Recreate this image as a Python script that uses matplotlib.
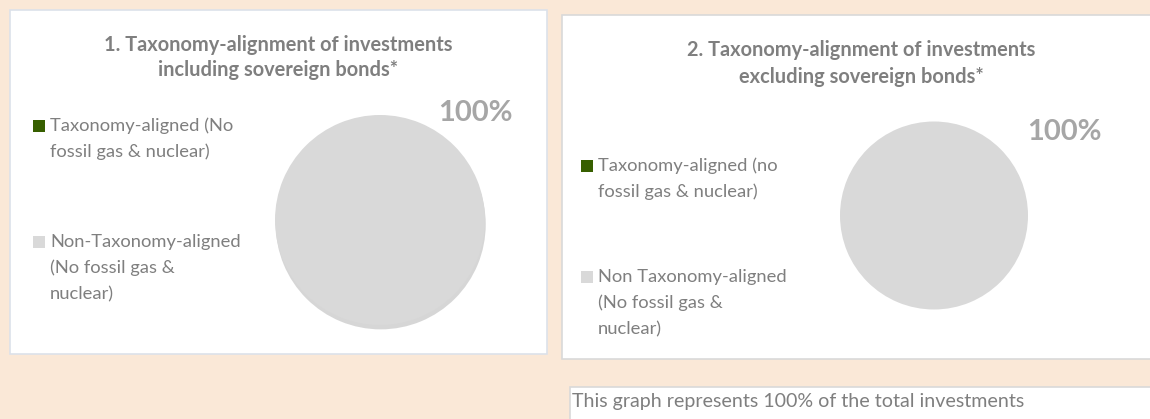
import matplotlib
matplotlib.use("Agg")
import matplotlib.pyplot as plt
from matplotlib.patches import Rectangle

# ---- data ----
titles = ["1. Taxonomy-alignment of investments\nincluding sovereign bonds*",
          "2. Taxonomy-alignment of investments\nexcluding sovereign bonds*"]
labels1 = ["Taxonomy-aligned (No\nfossil gas & nuclear)",
           "Non-Taxonomy-aligned\n(No fossil gas &\nnuclear)"]
labels2 = ["Taxonomy-aligned (no\nfossil gas & nuclear)",
           "Non Taxonomy-aligned\n(No fossil gas &\nnuclear)"]
values1 = [0, 100]
values2 = [0, 100]
colors = ["#375F00", "#D9D9D9"]
note = "This graph represents 100% of the total investments"

W, H = 1150, 419
FONT = "Lato"
TXT = "#7F7F7F"
BG = "#FAE8D7"

fig = plt.figure(figsize=(W / 100, H / 100), dpi=100)
fig.patch.set_facecolor(BG)

ov = fig.add_axes([0, 0, 1, 1])
ov.set_xlim(0, W)
ov.set_ylim(H, 0)
ov.axis("off")
ov.set_zorder(0)

# panels
ov.add_patch(Rectangle((10, 10), 537, 344, facecolor="white", edgecolor="#DCE1EA", lw=1.2))
ov.add_patch(Rectangle((562, 15), 600, 344, facecolor="white", edgecolor="#D9D9D9", lw=1.2))
ov.add_patch(Rectangle((570, 387), 600, 60, facecolor="white", edgecolor="#D9D9D9", lw=1.2))
ov.text(572, 401, note, fontsize=14.1, color=TXT, family=FONT, va="center", ha="left")

panels = [
    dict(title=titles[0], tx=278, ty=(45, 70), labels=labels1, values=values1,
         sq_x=33, txt_x=50, entry_y=(126, 242), pie=(380, 220, 105), shadow=True,
         pct=(475, 113)),
    dict(title=titles[1], tx=861, ty=(50, 77), labels=labels2, values=values2,
         sq_x=581, txt_x=598, entry_y=(166, 277), pie=(934, 215.5, 94), shadow=False,
         pct=(1064, 132)),
]

for p in panels:
    for line, y in zip(p["title"].split("\n"), p["ty"]):
        ov.text(p["tx"], y, line, fontsize=14.4, fontweight="bold", color=TXT,
                family=FONT, ha="center", va="center")
    for lab, col, y0 in zip(p["labels"], colors, p["entry_y"]):
        ov.add_patch(Rectangle((p["sq_x"], y0 - 6), 12, 12, facecolor=col, edgecolor="none"))
        for i, line in enumerate(lab.split("\n")):
            ov.text(p["txt_x"], y0 + i * 26, line, fontsize=13.2, color=TXT,
                    family=FONT, ha="left", va="center")
    cx, cy, r = p["pie"]
    pad = 1.1
    ax = fig.add_axes([(cx - r * pad) / W, (H - cy - r * pad) / H,
                       2 * r * pad / W, 2 * r * pad / H])
    ax.set_zorder(2)
    ax.patch.set_alpha(0)
    shadow = dict(ox=0.005, oy=-0.03, shade=0.2) if p["shadow"] else False
    ax.pie(p["values"], colors=colors, startangle=90, counterclock=False,
           radius=1, shadow=shadow, wedgeprops=dict(linewidth=0))
    ax.set_xlim(-pad, pad)
    ax.set_ylim(-pad, pad)
    ax.set_aspect("equal")
    ax.axis("off")
    ov.text(p["pct"][0], p["pct"][1], f"{p['values'][1]}%", fontsize=21,
            fontweight="bold", color="#A6A6A6", family=FONT, ha="center", va="center")

fig.savefig("out.png", dpi=100, facecolor=BG)
